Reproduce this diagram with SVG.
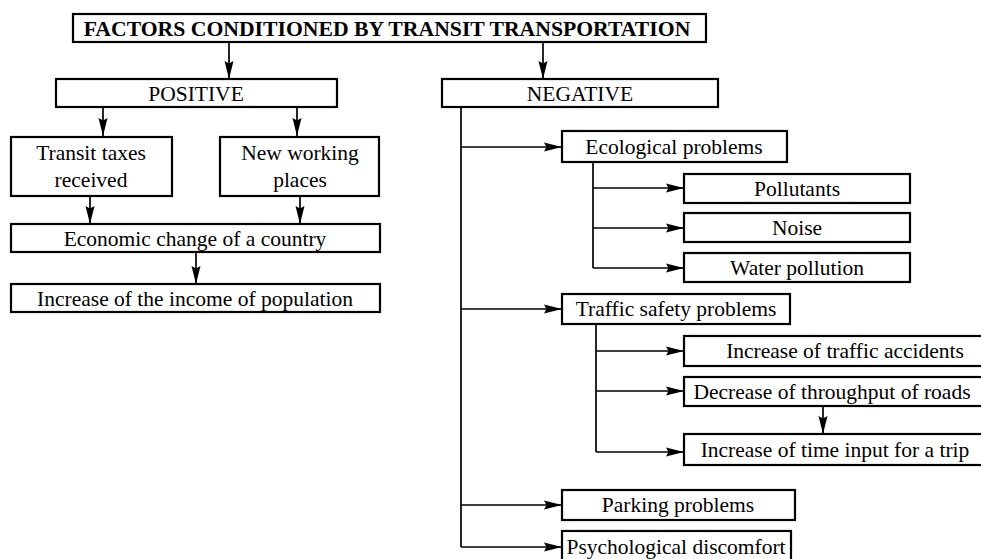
<svg xmlns="http://www.w3.org/2000/svg" width="981" height="559" viewBox="0 0 981 559">
<style>
  .box { fill: #fff; stroke: #000; stroke-width: 2.2; }
  .t { font-family: "Liberation Serif", "Times New Roman", serif; font-size: 21.5px; fill: #000; text-anchor: middle; }
  .title { font-weight: bold; font-size: 21.7px; }
  .ln { fill: none; stroke: #000; stroke-width: 1.7; }
</style>
<defs>
  <marker id="ah" markerWidth="18" markerHeight="10" refX="18" refY="5" orient="auto" markerUnits="userSpaceOnUse">
    <path d="M0,0.5 L18,5 L0,9.5 L2.5,5 Z" fill="#000"/>
  </marker>
</defs>
<rect width="981" height="559" fill="#fff"/>

<g id="connectors">
  <line class="ln" x1="229" y1="42" x2="229" y2="79" marker-end="url(#ah)"/>
  <line class="ln" x1="543" y1="42" x2="543" y2="79" marker-end="url(#ah)"/>
  <line class="ln" x1="103" y1="107" x2="103" y2="136" marker-end="url(#ah)"/>
  <line class="ln" x1="297" y1="107" x2="297" y2="136" marker-end="url(#ah)"/>
  <line class="ln" x1="90" y1="196" x2="90" y2="224" marker-end="url(#ah)"/>
  <line class="ln" x1="300" y1="196" x2="300" y2="224" marker-end="url(#ah)"/>
  <line class="ln" x1="196" y1="252" x2="196" y2="284" marker-end="url(#ah)"/>
  <path class="ln" d="M461,107 V547"/>
  <line class="ln" x1="461" y1="147" x2="562" y2="147" marker-end="url(#ah)"/>
  <line class="ln" x1="461" y1="309" x2="562" y2="309" marker-end="url(#ah)"/>
  <line class="ln" x1="461" y1="505" x2="562" y2="505" marker-end="url(#ah)"/>
  <line class="ln" x1="461" y1="547" x2="562" y2="547" marker-end="url(#ah)"/>
  <path class="ln" d="M593,162 V268"/>
  <line class="ln" x1="593" y1="188" x2="684" y2="188" marker-end="url(#ah)"/>
  <line class="ln" x1="593" y1="228" x2="684" y2="228" marker-end="url(#ah)"/>
  <line class="ln" x1="593" y1="268" x2="684" y2="268" marker-end="url(#ah)"/>
  <path class="ln" d="M596,324 V452"/>
  <line class="ln" x1="596" y1="351" x2="684" y2="351" marker-end="url(#ah)"/>
  <line class="ln" x1="596" y1="391" x2="684" y2="391" marker-end="url(#ah)"/>
  <line class="ln" x1="596" y1="452" x2="684" y2="452" marker-end="url(#ah)"/>
  <line class="ln" x1="823" y1="406" x2="823" y2="434" marker-end="url(#ah)"/>
</g>

<g id="title">
  <rect class="box" x="73" y="14" width="633" height="28"/>
  <text class="t title" x="387" y="35.5">FACTORS CONDITIONED BY TRANSIT TRANSPORTATION</text>
</g>
<g id="positive">
  <rect class="box" x="56" y="79" width="281" height="28"/>
  <text class="t" x="196" y="100.5">POSITIVE</text>
</g>
<g id="negative">
  <rect class="box" x="442" y="79" width="276" height="28"/>
  <text class="t" x="580" y="100.5">NEGATIVE</text>
</g>
<g id="transit-taxes">
  <rect class="box" x="11" y="137" width="161" height="59"/>
  <text class="t" x="91" y="160">Transit taxes</text>
  <text class="t" x="91" y="187">received</text>
</g>
<g id="new-working">
  <rect class="box" x="220" y="137" width="159" height="59"/>
  <text class="t" x="300" y="160">New working</text>
  <text class="t" x="300" y="187">places</text>
</g>
<g id="economic">
  <rect class="box" x="11" y="224" width="369" height="28"/>
  <text class="t" x="195" y="245.5">Economic change of a country</text>
</g>
<g id="income">
  <rect class="box" x="11" y="284" width="369" height="28"/>
  <text class="t" x="195" y="305.5">Increase of the income of population</text>
</g>
<g id="ecological">
  <rect class="box" x="562" y="131" width="225" height="31"/>
  <text class="t" x="674" y="153.5">Ecological problems</text>
</g>
<g id="pollutants">
  <rect class="box" x="684" y="174" width="226" height="29"/>
  <text class="t" x="797" y="195.5">Pollutants</text>
</g>
<g id="noise">
  <rect class="box" x="684" y="213" width="226" height="29"/>
  <text class="t" x="797" y="234.5">Noise</text>
</g>
<g id="water">
  <rect class="box" x="684" y="253" width="226" height="29"/>
  <text class="t" x="797" y="274.5">Water pollution</text>
</g>
<g id="traffic">
  <rect class="box" x="562" y="294" width="228" height="30"/>
  <text class="t" x="676" y="316">Traffic safety problems</text>
</g>
<g id="accidents">
  <rect class="box" x="684" y="336" width="310" height="30"/>
  <text class="t" x="845" y="358">Increase of traffic accidents</text>
</g>
<g id="throughput">
  <rect class="box" x="684" y="377" width="310" height="29"/>
  <text class="t" x="832" y="398.5">Decrease of throughput of roads</text>
</g>
<g id="time-input">
  <rect class="box" x="684" y="434" width="310" height="31"/>
  <text class="t" x="835" y="456.5">Increase of time input for a trip</text>
</g>
<g id="parking">
  <rect class="box" x="562" y="490" width="233" height="30"/>
  <text class="t" x="678" y="512">Parking problems</text>
</g>
<g id="psych">
  <rect class="box" x="562" y="531" width="229" height="40"/>
  <text class="t" x="676" y="554">Psychological discomfort</text>
</g>
</svg>
